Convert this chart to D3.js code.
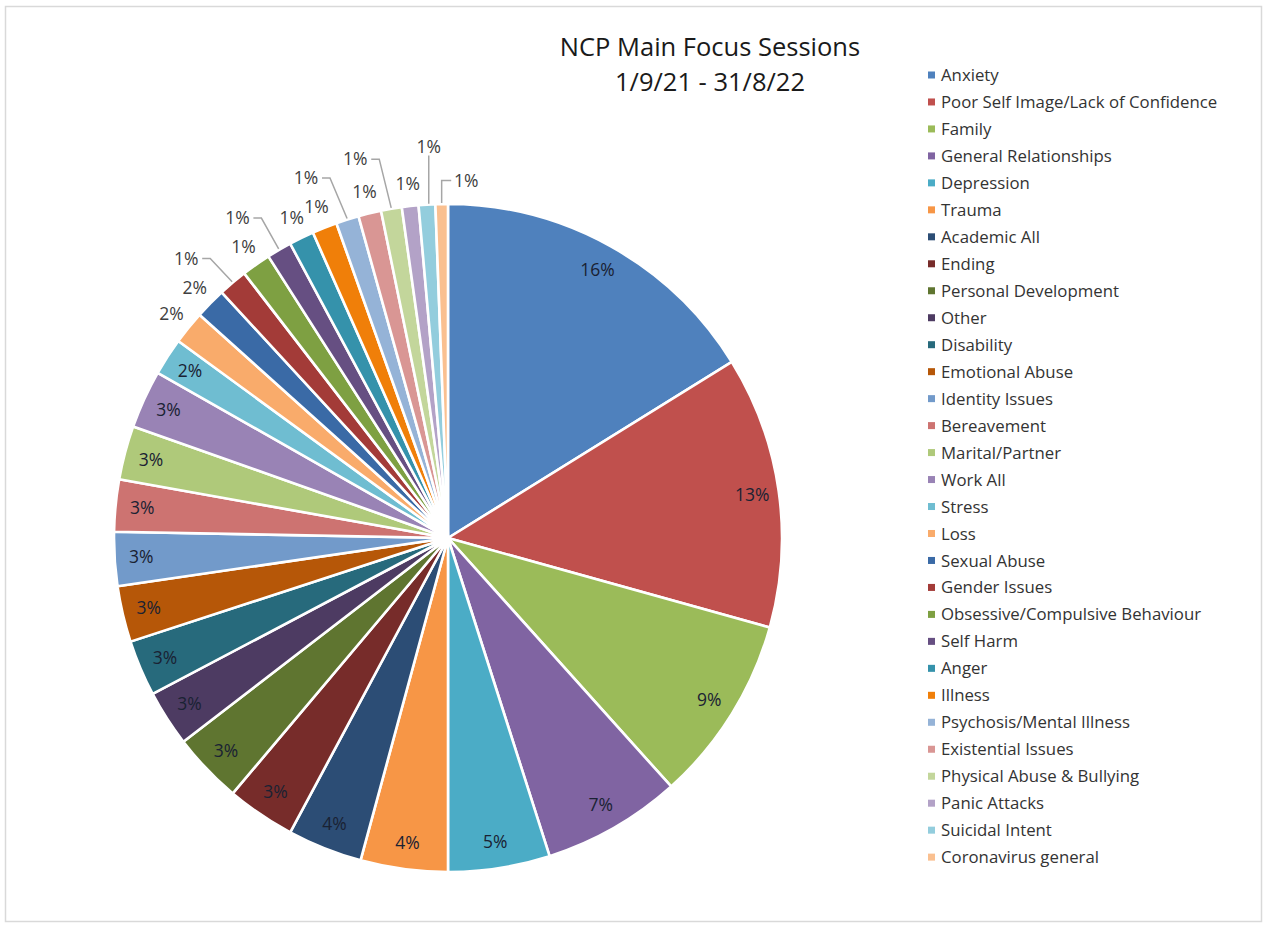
<!DOCTYPE html>
<html>
<head>
<meta charset="utf-8">
<script src="https://cdn.jsdelivr.net/npm/d3@7"></script>
<style>
  body { margin: 0; background: #fff; }
  svg { font-family: "Open Sans", "DejaVu Sans", sans-serif; }
</style>
</head>
<body>
<div id="chart"></div>
<script>
// données (en % des séances)
const categories = [
  "Anxiety", "Poor Self Image/Lack of Confidence", "Family", "General Relationships",
  "Depression", "Trauma", "Academic All", "Ending", "Personal Development", "Other",
  "Disability", "Emotional Abuse", "Identity Issues", "Bereavement", "Marital/Partner",
  "Work All", "Stress", "Loss", "Sexual Abuse", "Gender Issues",
  "Obsessive/Compulsive Behaviour", "Self Harm", "Anger", "Illness",
  "Psychosis/Mental Illness", "Existential Issues", "Physical Abuse & Bullying",
  "Panic Attacks", "Suicidal Intent", "Coronavirus general"
];
const values = [
  16.1, 13.1, 9.0, 6.7, 4.9, 4.2, 3.6, 3.3, 3.4, 2.7,
  2.7, 2.7, 2.6, 2.5, 2.6, 2.8, 1.8, 1.6, 1.5, 1.4,
  1.4, 1.2, 1.2, 1.2, 1.1, 1.1, 1.0, 0.8, 0.8, 0.6
];
const colors = [
  "#4f81bd", "#c0504d", "#9bbb59", "#8064a2", "#4bacc6", "#f79646", "#2c4d75", "#772c2a",
  "#5f7530", "#4d3b62", "#276a7c", "#b65708", "#729aca", "#cd7371", "#afc97a", "#9983b5",
  "#6fbdd1", "#f9ab6b", "#3a6aa6", "#a33b38", "#7ea042", "#664f82", "#3592ab", "#f07f09",
  "#95b3d7", "#d99694", "#c3d69b", "#b3a2c7", "#93cddd", "#fac090"
];
const titleLines = ["NCP Main Focus Sessions", "1/9/21 - 31/8/22"];

// étiquettes éloignées avec trait de rappel : décalage d'angle (degrés) et rayon
const leaderLabels = {
  "Gender Issues": [-3, 383],
  "Self Harm": [-3, 383],
  "Psychosis/Mental Illness": [-4, 387],
  "Physical Abuse & Bullying": [-4, 390],
  "Suicidal Intent": [0.8, 392],
  "Coronavirus general": [4, 358]
};

const width = 1264, height = 926;
const cx = 448, cy = 538, radius = 334;

const svg = d3.select("#chart").append("svg")
  .attr("width", width)
  .attr("height", height);

// cadre du graphique
svg.append("rect")
  .attr("x", 5.5).attr("y", 6.5)
  .attr("width", 1256).attr("height", 915)
  .attr("fill", "white")
  .attr("stroke", "#d9d9d9")
  .attr("stroke-width", 1.5);

// titre
svg.append("g").selectAll("text")
  .data(titleLines)
  .enter().append("text")
  .attr("x", 710)
  .attr("y", (d, i) => 56 + i * 35)
  .attr("text-anchor", "middle")
  .style("font-size", "25.5px")
  .style("fill", "#1a1a1a")
  .text(d => d);

const data = categories.map((c, i) => ({ name: c, value: values[i], color: colors[i] }));
const total = d3.sum(values);

const pie = d3.pie().sort(null).value(d => d.value);
const arcs = pie(data);
const arc = d3.arc().innerRadius(0).outerRadius(radius);

const g = svg.append("g").attr("transform", `translate(${cx},${cy})`);

g.selectAll("path")
  .data(arcs)
  .enter().append("path")
  .attr("d", arc)
  .attr("fill", d => d.data.color)
  .attr("stroke", "white")
  .attr("stroke-width", 2.6)
  .attr("stroke-linejoin", "round");

function polar(angle, r) {
  return [Math.sin(angle) * r, -Math.cos(angle) * r];
}

// étiquettes de pourcentage
arcs.forEach(d => {
  const mid = (d.startAngle + d.endAngle) / 2;
  const pct = Math.round(d.data.value / total * 100) + "%";
  let pos, fill = "#1a2233";
  const lead = leaderLabels[d.data.name];
  if (lead) {
    pos = polar(mid + lead[0] * Math.PI / 180, lead[1]);
    fill = "#404040";
    const edge = polar(mid, radius + 1);
    let pts;
    if (Math.abs(pos[0] - edge[0]) < 8) {
      pts = [[pos[0], pos[1] + 9], [pos[0], edge[1]]];
    } else if (pos[0] < edge[0]) {
      pts = [[pos[0] + 16, pos[1]], [pos[0] + 24, pos[1]], edge];
    } else {
      pts = [edge, [edge[0], pos[1]], [pos[0] - 15, pos[1]]];
    }
    g.append("path")
      .attr("d", d3.line()(pts))
      .attr("fill", "none")
      .attr("stroke", "#a6a6a6")
      .attr("stroke-width", 1.5);
  } else if (d.data.value < 1.7) {
    pos = polar(mid, 356);
    fill = "#404040";
  } else {
    pos = polar(mid, radius * 0.92);
  }
  g.append("text")
    .attr("x", pos[0])
    .attr("y", pos[1])
    .attr("dy", "0.35em")
    .attr("text-anchor", "middle")
    .style("font-size", "17.5px")
    .style("fill", fill)
    .text(pct);
});

// légende
const legend = svg.append("g")
  .attr("transform", "translate(928, 75)")
  .selectAll("g")
  .data(data)
  .enter().append("g")
  .attr("transform", (d, i) => `translate(0, ${i * 26.97})`);

legend.append("rect")
  .attr("x", 0)
  .attr("y", -3.5)
  .attr("width", 7)
  .attr("height", 7)
  .attr("fill", d => d.color);

legend.append("text")
  .attr("x", 13)
  .attr("y", 0)
  .attr("dy", "0.36em")
  .style("font-size", "16.8px")
  .style("fill", "#333")
  .text(d => d.name);
</script>
</body>
</html>
